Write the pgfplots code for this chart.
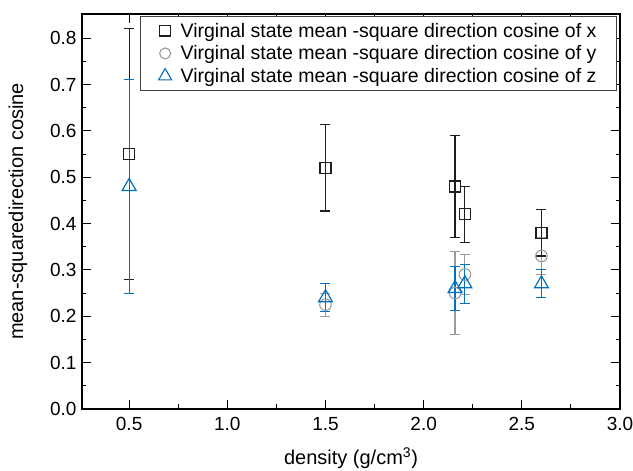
\documentclass[border=0pt]{standalone}
\usepackage{pgfplots}
\pgfplotsset{compat=1.18}
\usepackage{pgfplotstable}
\usepackage{fontspec}
\setmainfont{Liberation Sans}

\definecolor{cx}{RGB}{30,30,30}
\definecolor{cy}{RGB}{155,155,155}
\definecolor{cz}{RGB}{0,112,192}

% mean-square direction cosine of x
\pgfplotstableread{
x    y     e
0.5  0.55  0.27
1.5  0.52  0.093
2.16 0.48  0.11
2.21 0.42  0.06
2.6  0.38  0.05
}\dataX
% of y
\pgfplotstableread{
x    y     e
1.5  0.225 0.025
2.16 0.25  0.09
2.21 0.29  0.044
2.6  0.33  0.04
}\dataY
% of z
\pgfplotstableread{
x    y     e
0.5  0.48  0.23
1.5  0.24  0.03
2.16 0.26  0.047
2.21 0.27  0.042
2.6  0.27  0.03
}\dataZ

\begin{document}
\begin{tikzpicture}
\path[use as bounding box] (-82pt,-62pt) rectangle (551pt,409pt);
\begin{axis}[
    scale only axis,
    width=538pt, height=395pt,
    xmin=0.26, xmax=3.0,
    ymin=0, ymax=0.852,
    xtick={0.5,1.0,1.5,2.0,2.5,3.0},
    ytick={0,0.1,0.2,0.3,0.4,0.5,0.6,0.7,0.8},
    minor x tick num=1, minor y tick num=1,
    tick align=inside,
    major tick length=9pt, minor tick length=4.5pt,
    every tick/.style={black, line width=1pt},
    axis line style={line width=1.3pt},
    ticklabel style={font=\fontsize{19}{22}\selectfont},
    xticklabel style={yshift=-5pt},
    yticklabel style={xshift=-2pt},
    /pgf/number format/.cd, fixed, fixed zerofill, precision=1, assume math mode=true,
    /pgfplots/.cd,
    xlabel={density (g/cm\textsuperscript{3})},
    ylabel={mean-squaredirection cosine},
    every axis x label/.style={at={(axis description cs:0.5,-0.124)}, anchor=center,
        font=\fontsize{20}{23}\selectfont},
    every axis y label/.style={at={(axis description cs:-0.119,0.5)}, anchor=center,
        rotate=90, font=\fontsize{20}{23}\selectfont},
    legend style={at={(axis description cs:1,1)}, anchor=north east,
        xshift=-3pt, yshift=-2pt, draw=black!75, line width=1pt,
        font=\fontsize{19.5}{21}\selectfont, row sep=3pt,
        inner xsep=18pt, inner ysep=4.5pt,
        /tikz/every odd column/.append style={column sep=7pt}},
    legend cell align=left,
    error bars/y dir=both, error bars/y explicit,
    error bars/error mark options={rotate=90, mark size=5pt, line width=1.1pt},
]
\addlegendimage{only marks, mark=square, mark size=5.2pt, cx, line width=1.1pt}
\addlegendentry{Virginal state mean -square direction cosine of x}
\addlegendimage{only marks, mark=o, mark size=5.5pt, cy, line width=1.1pt}
\addlegendentry{Virginal state mean -square direction cosine of y}
\addlegendimage{only marks, mark=triangle, mark size=7.5pt, cz, line width=1.1pt}
\addlegendentry{Virginal state mean -square direction cosine of z}

\addplot[forget plot, only marks, mark=o, mark size=5.8pt, cy, line width=1.1pt,
    error bars/error bar style={cy, line width=1.2pt}]
    table[x=x, y=y, y error=e] {\dataY};
\addplot[forget plot, only marks, mark=square, mark size=5.5pt, cx, line width=1.2pt,
    error bars/error bar style={cx, line width=1.2pt}]
    table[x=x, y=y, y error=e] {\dataX};
\addplot[forget plot, only marks, mark=triangle, mark size=8pt, cz, line width=1.2pt,
    error bars/error bar style={cz, line width=1.2pt}]
    table[x=x, y=y, y error=e] {\dataZ};
\end{axis}
\end{tikzpicture}
\end{document}
